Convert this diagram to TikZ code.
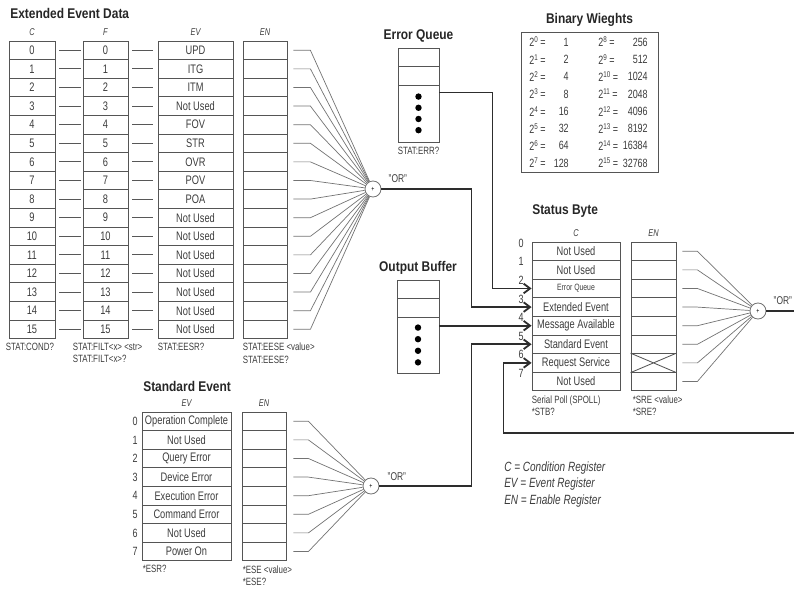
\documentclass[tikz,border=0pt]{standalone}
\usepackage{fontspec}
\setmainfont{Liberation Sans}[FakeStretch=0.75]
\newfontfamily\headfont{Liberation Sans}[FakeStretch=0.85]
\usepackage{xcolor}
\definecolor{regline}{RGB}{85, 85, 85}
\definecolor{regtext}{RGB}{60, 60, 60}
\definecolor{busline}{RGB}{45, 45, 45}
\definecolor{fanline}{RGB}{115, 115, 115}
\usetikzlibrary{
  arrows.meta,
  positioning,
  calc
}

\begin{document}
\begin{tikzpicture}[x=0.25mm, y=-0.25mm,
  cell/.style={draw=regline, line width=0.6pt, minimum height=4.65mm, inner sep=0pt, text=regtext, font=\fontsize{8.8}{10}\selectfont},
  hdr/.style={inner sep=0pt, text=regtext, font=\fontsize{7}{8}\selectfont\itshape},
  title/.style={inner sep=0pt, text=black!85, font=\headfont\bfseries\fontsize{10}{12}\selectfont},
  reglabel/.style={inner sep=0pt, text=regtext, align=left, font=\fontsize{7.5}{8.6}\selectfont},
  bitnum/.style={inner sep=0pt, text=regtext, font=\fontsize{8.5}{10}\selectfont},
  bwtext/.style={inner sep=0pt, text=regtext, font=\fontsize{8.5}{10}\selectfont},
  orgate/.style={circle, draw=fanline, line width=0.6pt, fill=white, minimum size=4mm, inner sep=0pt, font=\fontsize{5}{5}\selectfont},
  orlabel/.style={inner sep=0pt, anchor=west, text=regtext, font=\fontsize{8}{9}\selectfont},
  linkbar/.style={draw=busline!80, line width=0.6pt},
  fan/.style={draw=fanline, line width=0.5pt},
  bus/.style={draw=busline, line width=1.3pt},
  busarrow/.style={bus, -{Straight Barb[length=1.6mm, width=2.4mm]}},
  legend/.style={inner sep=0pt, anchor=west, text=regtext, font=\fontsize{9.5}{11}\selectfont\itshape}
]
  \useasboundingbox (0, 0) rectangle (794, 589);

  % OR gates
  \node[orgate] (orA) at (373, 189) {+};
  \node[orgate] (orB) at (758, 311) {+};
  \node[orgate] (orC) at (371, 486) {+};
  \node[orlabel] (orAl) at ([xshift=1.75mm, yshift=2.5mm]orA.east) {"OR"};
  \node[orlabel] (orBl) at ([xshift=1.75mm, yshift=2.5mm]orB.east) {"OR"};
  \node[orlabel] (orCl) at ([xshift=2mm, yshift=2.25mm]orC.east) {"OR"};

  % extended event data - four 16 bit registers
  \node[title, anchor=west] (tExt) at (10, 13) {Extended Event Data};
  \foreach \i/\ev in {0/UPD, 1/ITG, 2/ITM, 3/Not Used, 4/FOV, 5/STR, 6/OVR, 7/POV,
                      8/POA, 9/Not Used, 10/Not Used, 11/Not Used, 12/Not Used,
                      13/Not Used, 14/Not Used, 15/Not Used} {
    \node[cell, minimum width=11.5mm] (xc\i) at (32, 50.3+18.6*\i) {\i};
    \node[cell, minimum width=11.25mm] (xf\i) at (105.5, 50.3+18.6*\i) {\i};
    \node[cell, minimum width=18.75mm] (xev\i) at (195.5, 50.3+18.6*\i) {\ev};
    \node[cell, minimum width=11mm] (xen\i) at (265, 50.3+18.6*\i) {};
    \draw[linkbar, shorten <=1mm, shorten >=0.5mm] (xc\i) -- (xf\i);
    \draw[linkbar, shorten <=1mm, shorten >=1.25mm] (xf\i) -- (xev\i);
    \draw[fan] ([xshift=1.5mm]xen\i.east) -- ++(4.25mm, 0) -- (orA);
  }
  \node[hdr, above=1.2mm of xc0] (hxc) {C};
  \node[hdr, above=1.2mm of xf0] (hxf) {F};
  \node[hdr, above=1.2mm of xev0] (hxev) {EV};
  \node[hdr, above=1.2mm of xen0] (hxen) {EN};
  \node[reglabel, anchor=north west] (lxc) at ([xshift=-0.75mm, yshift=-1mm]xc15.south west) {STAT:COND?};
  \node[reglabel, anchor=north west] (lxf) at ([xshift=-2.5mm, yshift=-1mm]xf15.south west) {STAT:FILT<x> <str>\\STAT:FILT<x>?};
  \node[reglabel, anchor=north west] (lxev) at ([yshift=-1mm]xev15.south west) {STAT:EESR?};
  \node[reglabel, anchor=north west] (lxen) at ([yshift=-1mm]xen15.south west) {STAT:EESE <value>\\STAT:EESE?};

  % error queue
  \node[cell, minimum width=10.25mm, minimum height=4.5mm] (eq1) at (418.5, 57) {};
  \node[cell, minimum width=10.25mm, minimum height=4.75mm] (eq2) at (418.5, 75.5) {};
  \node[cell, minimum width=10.25mm, minimum height=14.25mm] (eq3) at (418.5, 113.5) {};
  \foreach \k in {0,...,3}
    \fill[black] ([yshift=-3mm-2.8mm*\k]eq3.north) circle (0.8mm);
  \node[title, above=1.2mm of eq1] (tEq) {Error Queue};
  \node[reglabel, below=1.2mm of eq3] (leq) {STAT:ERR?};

  % output buffer
  \node[cell, minimum width=10.5mm, minimum height=4.5mm] (ob1) at (418, 289) {};
  \node[cell, minimum width=10.5mm, minimum height=4.75mm] (ob2) at (418, 307.5) {};
  \node[cell, minimum width=10.5mm, minimum height=14mm] (ob3) at (418, 345) {};
  \foreach \k in {0,...,3}
    \fill[black] ([yshift=-2.75mm-2.9mm*\k]ob3.north) circle (0.8mm);
  \node[title, above=1.2mm of ob1] (tOb) {Output Buffer};

  % binary weights table
  \node[draw=regline, line width=0.6pt, minimum width=34.25mm, minimum height=35mm] (bw) at (589.5, 102) {};
  \node[title, above=1.2mm of bw] (tBw) {Binary Wieghts};
  \foreach \i/\lo/\hi/\hv in {0/1/8/256, 1/2/9/512, 2/4/10/1024, 3/8/11/2048,
                              4/16/12/4096, 5/32/13/8192, 6/64/14/16384, 7/128/15/32768} {
    \node[bwtext, anchor=west] (bwa\i) at (529, 42+17.3*\i) {2\textsuperscript{\i}\,=};
    \node[bwtext, anchor=east] (bwb\i) at (569, 42+17.3*\i) {\lo};
    \node[bwtext, anchor=west] (bwc\i) at (598, 42+17.3*\i) {2\textsuperscript{\hi}\,=};
    \node[bwtext, anchor=east] (bwd\i) at (648, 42+17.3*\i) {\hv};
  }

  % status byte
  \node[title, anchor=west] (tSb) at (532, 211) {Status Byte};
  \foreach \i/\cond in {0/Not Used, 1/Not Used, 2/{\fontsize{6.5}{7}\selectfont Error Queue},
                        3/Extended Event, 4/Message Available, 5/Standard Event,
                        6/Request Service, 7/Not Used} {
    \node[cell, minimum width=22mm] (sbc\i) at (576, 251.3+18.6*\i) {\cond};
    \node[cell, minimum width=11.25mm] (sben\i) at (653.5, 251.3+18.6*\i) {};
    \node[bitnum] (sbb\i) at ([xshift=-2.6mm, yshift=-0.4mm]sbc\i.north west) {\i};
    \draw[fan] ([xshift=1.5mm]sben\i.east) -- ++(3.75mm, 0) -- (orB);
  }
  \draw[draw=regline, line width=0.6pt] (sben6.north west) -- (sben6.south east)
    (sben6.south west) -- (sben6.north east);
  \node[hdr, above=1.2mm of sbc0] (hsbc) {C};
  \node[hdr, above=1.2mm of sben0] (hsben) {EN};
  \node[reglabel, anchor=north west] (lsbc) at ([yshift=-1mm]sbc7.south west) {Serial Poll (SPOLL)\\*STB?};
  \node[reglabel, anchor=north west] (lsben) at ([xshift=0.5mm, yshift=-1mm]sben7.south west) {*SRE <value>\\*SRE?};

  % standard event
  \node[title, anchor=west] (tSe) at (143, 386) {Standard Event};
  \foreach \i/\ev in {0/Operation Complete, 1/Not Used, 2/Query Error, 3/Device Error,
                      4/Execution Error, 5/Command Error, 6/Not Used, 7/Power On} {
    \node[cell, minimum width=22.25mm] (sev\i) at (186.5, 421.3+18.6*\i) {\ev};
    \node[cell, minimum width=11mm] (sen\i) at (264, 421.3+18.6*\i) {};
    \node[bitnum] (seb\i) at (135, 421.3+18.6*\i) {\i};
    \draw[fan] ([xshift=1.75mm]sen\i.east) -- ++(3.75mm, 0) -- (orC);
  }
  \node[hdr, above=1.2mm of sev0] (hsev) {EV};
  \node[hdr, above=1.2mm of sen0] (hsen) {EN};
  \node[reglabel, anchor=north west] (lsev) at ([xshift=0.25mm, yshift=-1mm]sev7.south west) {*ESR?};
  \node[reglabel, anchor=north west] (lsen) at ([xshift=0.25mm, yshift=-1mm]sen7.south west) {*ESE <value>\\*ESE?};

  % summary lines into the status byte
  \draw[busarrow] ([yshift=-2mm]eq3.north east) -| ($(sbc2.west)+(-9.75mm, 0)$) -- (sbc2.west);
  \draw[busarrow] (orA) -| ($(sbc3.west)+(-15mm, 0)$) -- (sbc3.west);
  \draw[busarrow] (ob3.east |- sbc4.west) -- (sbc4.west);
  \draw[busarrow] (orC) -| ($(sbc5.west)+(-15mm, 0)$) -- (sbc5.west);
  \coordinate (fbIn) at (794, 433);
  \draw[busarrow] (fbIn) -| ($(sbc6.west)+(-7mm, 0)$) -- (sbc6.west);
  \coordinate (sbOut) at (794, 311);
  \draw[bus] (orB) -- (sbOut);

  % legend
  \node[legend] (lgC) at (504, 468) {C = Condition Register};
  \node[legend] (lgEV) at (504, 484.5) {EV = Event Register};
  \node[legend] (lgEN) at (504, 501) {EN = Enable Register};

\end{tikzpicture}
\end{document}
